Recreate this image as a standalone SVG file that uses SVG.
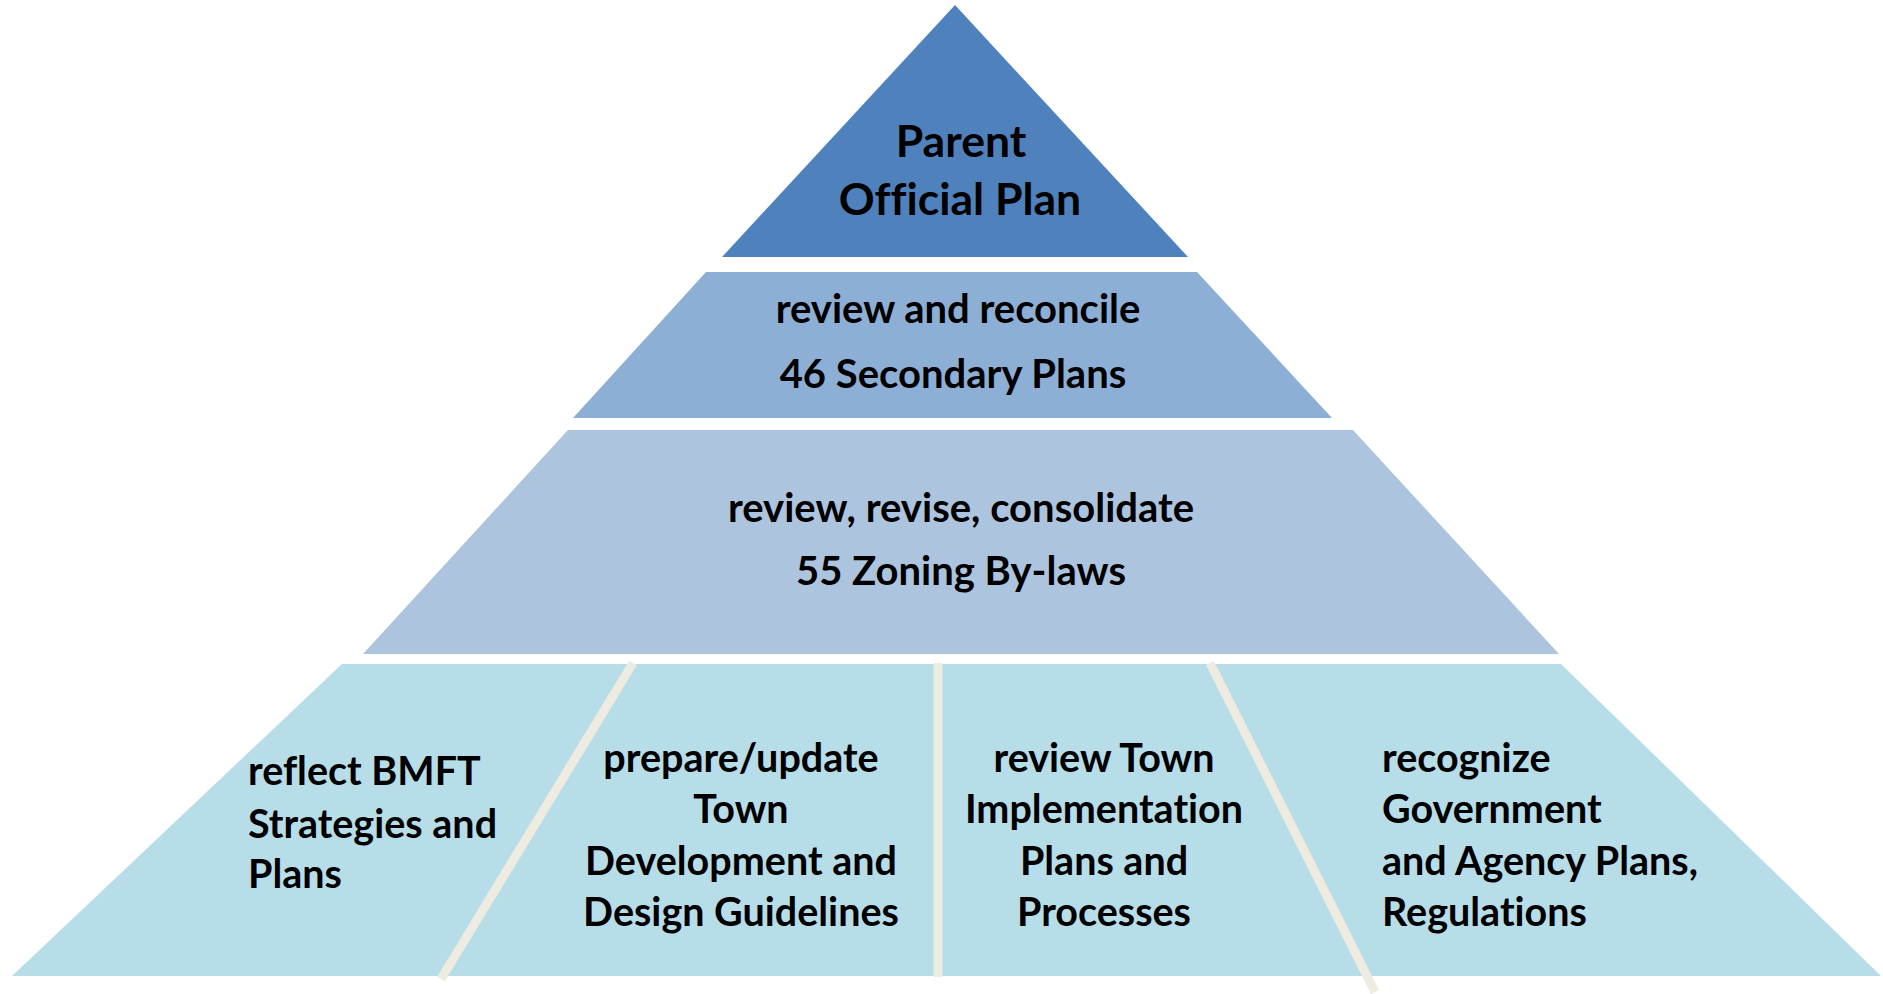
<svg xmlns="http://www.w3.org/2000/svg" width="1883" height="994" viewBox="0 0 1883 994">
<style>
text{font-family:Lato,"Liberation Sans",sans-serif;font-weight:bold;fill:#000;font-variant-ligatures:none}
.c{text-anchor:middle}
.t1{font-size:44.5px}
.t2{font-size:40px}
.t3{font-size:39.5px}
.div{stroke:#EEEBE0;stroke-width:9;fill:none}
</style>
<rect width="1883" height="994" fill="#fff"/>
<g id="level1">
<polygon points="955,5 1188,257 722,257" fill="#4F81BD"/>
<text class="t1 c" x="961" y="157">Parent</text>
<text class="t1 c" x="960" y="215">Official Plan</text>
</g>
<g id="level2">
<polygon points="706,272 1197,272 1332,418 573,418" fill="#8DAFD6"/>
<text class="t2 c" x="958" y="323">review and reconcile</text>
<text class="t2 c" x="953" y="388">46 Secondary Plans</text>
</g>
<g id="level3">
<polygon points="568,430 1353,430 1559,654 363,654" fill="#ADC4DF"/>
<text class="t2 c" x="961" y="522">review, revise, consolidate</text>
<text class="t2 c" x="961" y="585">55 Zoning By-laws</text>
</g>
<g id="level4">
<polygon points="342,664 1561,664 1881,976 12,976" fill="#B7DDE8"/>
</g>
<g id="connectors">
<line class="div" x1="633" y1="663" x2="441" y2="979"/>
<line class="div" x1="938" y1="663" x2="938" y2="977"/>
<line class="div" x1="1210" y1="663" x2="1375" y2="992"/>
</g>
<g id="box1">
<text class="t3" x="248" y="785">reflect BMFT</text>
<text class="t3" x="248" y="838">Strategies and</text>
<text class="t3" x="248" y="888">Plans</text>
</g>
<g id="box2">
<text class="t3 c" x="741" y="772">prepare/update</text>
<text class="t3 c" x="741" y="823">Town</text>
<text class="t3 c" x="741" y="875">Development and</text>
<text class="t3 c" x="741" y="926">Design Guidelines</text>
</g>
<g id="box3">
<text class="t3 c" x="1104" y="772">review Town</text>
<text class="t3 c" x="1104" y="823">Implementation</text>
<text class="t3 c" x="1104" y="875">Plans and</text>
<text class="t3 c" x="1104" y="926">Processes</text>
</g>
<g id="box4">
<text class="t3" x="1382" y="772">recognize</text>
<text class="t3" x="1382" y="823">Government</text>
<text class="t3" x="1382" y="875">and Agency Plans,</text>
<text class="t3" x="1382" y="926">Regulations</text>
</g>
</svg>
